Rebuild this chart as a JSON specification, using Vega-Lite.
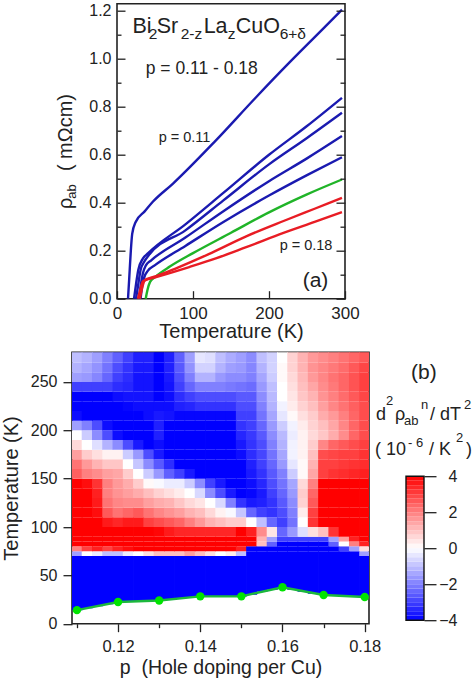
{"$schema":"https://vega.github.io/schema/vega-lite/v6.json","padding":{"left":0,"top":1.7,"right":0,"bottom":0},"background":"white","bounds":"flush","spacing":348.5,"config":{"font":"Liberation Sans","axis":{"grid":false,"domain":false,"tickColor":"#222","labelColor":"#222","titleColor":"#222","titleFontWeight":"normal","tickWidth":1.3,"labelFlush":false,"labelOverlap":false},"text":{"color":"#222"}},"vconcat":[{"hconcat":[{"width":45,"height":295,"data":{"values":[]},"mark":"point","encoding":{},"view":{"stroke":null}},{"width":228,"height":295,"view":{"stroke":"#222","strokeWidth":1.6},"layer":[{"data":{"values":[{"c":"p0.11","T":14.5,"r":0},{"c":"p0.11","T":16,"r":0.08},{"c":"p0.11","T":18,"r":0.19},{"c":"p0.11","T":20,"r":0.27},{"c":"p0.11","T":24.6,"r":0.32},{"c":"p0.11","T":36.4,"r":0.364},{"c":"p0.11","T":47.4,"r":0.405},{"c":"p0.11","T":73.7,"r":0.48},{"c":"p0.11","T":128.6,"r":0.655},{"c":"p0.11","T":183,"r":0.84},{"c":"p0.11","T":227,"r":0.985},{"c":"p0.11","T":271,"r":1.125},{"c":"p0.11","T":296,"r":1.205},{"c":"p0.12","T":22.4,"r":0},{"c":"p0.12","T":25,"r":0.06},{"c":"p0.12","T":28,"r":0.12},{"c":"p0.12","T":34,"r":0.167},{"c":"p0.12","T":41,"r":0.19},{"c":"p0.12","T":90,"r":0.31},{"c":"p0.12","T":139.5,"r":0.44},{"c":"p0.12","T":200,"r":0.6},{"c":"p0.12","T":250,"r":0.72},{"c":"p0.12","T":296,"r":0.8375},{"c":"p0.13","T":25,"r":0},{"c":"p0.13","T":28,"r":0.06},{"c":"p0.13","T":31,"r":0.12},{"c":"p0.13","T":36,"r":0.155},{"c":"p0.13","T":41,"r":0.178},{"c":"p0.13","T":90,"r":0.285},{"c":"p0.13","T":140,"r":0.41},{"c":"p0.13","T":200,"r":0.56},{"c":"p0.13","T":250,"r":0.67},{"c":"p0.13","T":296,"r":0.775},{"c":"p0.14","T":29,"r":0},{"c":"p0.14","T":31,"r":0.05},{"c":"p0.14","T":34,"r":0.105},{"c":"p0.14","T":38,"r":0.139},{"c":"p0.14","T":45,"r":0.16},{"c":"p0.14","T":90,"r":0.255},{"c":"p0.14","T":140,"r":0.365},{"c":"p0.14","T":200,"r":0.49},{"c":"p0.14","T":250,"r":0.585},{"c":"p0.14","T":296,"r":0.678},{"c":"p0.15","T":31,"r":0},{"c":"p0.15","T":33,"r":0.05},{"c":"p0.15","T":36,"r":0.09},{"c":"p0.15","T":41,"r":0.118},{"c":"p0.15","T":50,"r":0.14},{"c":"p0.15","T":90,"r":0.22},{"c":"p0.15","T":140,"r":0.32},{"c":"p0.15","T":200,"r":0.43},{"c":"p0.15","T":250,"r":0.515},{"c":"p0.15","T":296,"r":0.59},{"c":"p0.16","T":37.8,"r":0},{"c":"p0.16","T":40,"r":0.035},{"c":"p0.16","T":43.5,"r":0.07},{"c":"p0.16","T":50,"r":0.09},{"c":"p0.16","T":70,"r":0.135},{"c":"p0.16","T":100,"r":0.19},{"c":"p0.16","T":150,"r":0.275},{"c":"p0.16","T":200,"r":0.36},{"c":"p0.16","T":250,"r":0.435},{"c":"p0.16","T":296,"r":0.497},{"c":"p0.17","T":27.5,"r":0},{"c":"p0.17","T":30,"r":0.03},{"c":"p0.17","T":34,"r":0.072},{"c":"p0.17","T":51.5,"r":0.094},{"c":"p0.17","T":80,"r":0.13},{"c":"p0.17","T":120,"r":0.185},{"c":"p0.17","T":170,"r":0.26},{"c":"p0.17","T":220,"r":0.325},{"c":"p0.17","T":260,"r":0.375},{"c":"p0.17","T":296,"r":0.42},{"c":"p0.18","T":30,"r":0},{"c":"p0.18","T":32,"r":0.03},{"c":"p0.18","T":36.6,"r":0.076},{"c":"p0.18","T":51.5,"r":0.09},{"c":"p0.18","T":95,"r":0.132},{"c":"p0.18","T":130,"r":0.168},{"c":"p0.18","T":170,"r":0.215},{"c":"p0.18","T":220,"r":0.275},{"c":"p0.18","T":260,"r":0.32},{"c":"p0.18","T":296,"r":0.361}]},"mark":{"type":"line","strokeWidth":2.4,"interpolate":"monotone"},"encoding":{"x":{"field":"T","type":"quantitative","scale":{"domain":[0,300],"nice":false},"axis":{"zindex":2,"values":[0,50,100,150,200,250,300],"labelFontSize":17,"titleFontSize":20,"title":"Temperature (K)","labelExpr":"datum.value%100===0?datum.label:''","tickSize":{"condition":{"test":"datum.value%100===0","value":-8},"value":-4},"labelPadding":15,"titlePadding":0}},"y":{"field":"r","type":"quantitative","scale":{"domain":[0,1.23],"nice":false},"axis":{"zindex":2,"values":[0,0.1,0.2,0.3,0.4,0.5,0.6,0.7,0.8,0.9,1,1.1,1.2],"format":".1f","labelFontSize":16,"title":null,"labelExpr":"round(datum.value*10)%2===0?datum.label:''","tickSize":{"condition":{"test":"round(datum.value*10)%2===0","value":-8},"value":-4},"labelPadding":14}},"detail":{"field":"c"},"color":{"field":"c","type":"nominal","legend":null,"scale":{"domain":["p0.11","p0.12","p0.13","p0.14","p0.15","p0.16","p0.17","p0.18"],"range":["#1a1ab0","#1a1ab0","#1a1ab0","#1a1ab0","#1a1ab0","#20b428","#e81c24","#e81c24"]}}}},{"data":{"values":[{"t":"Bi","T":20.3,"r":1.107},{"t":"Sr","T":52.2,"r":1.107},{"t":"La","T":114,"r":1.107},{"t":"CuO","T":156.2,"r":1.107}]},"mark":{"type":"text","fontSize":21.5,"align":"left","baseline":"alphabetic","clip":false},"encoding":{"x":{"field":"T","type":"quantitative"},"y":{"field":"r","type":"quantitative","axis":{"zindex":2,"orient":"right","values":[0,0.1,0.2,0.3,0.4,0.5,0.6,0.7,0.8,0.9,1,1.1,1.2],"labels":false,"title":null,"tickSize":{"condition":{"test":"round(datum.value*10)%2===0","value":-9},"value":-5}}},"text":{"field":"t"}}},{"data":{"values":[{"t":"2","T":41.7,"r":1.082},{"t":"2-z","T":83.8,"r":1.082},{"t":"z","T":145.7,"r":1.082},{"t":"6+δ","T":214,"r":1.082}]},"mark":{"type":"text","fontSize":15.5,"align":"left","baseline":"alphabetic"},"encoding":{"x":{"field":"T","type":"quantitative"},"y":{"field":"r","type":"quantitative","axis":null},"text":{"field":"t"}}},{"data":{"values":[{"t":"p = 0.11 - 0.18","T":37.8,"r":0.936}]},"mark":{"type":"text","fontSize":17.5,"align":"left","baseline":"alphabetic"},"encoding":{"x":{"field":"T","type":"quantitative"},"y":{"field":"r","type":"quantitative","axis":null},"text":{"field":"t"}}},{"data":{"values":[{"t":"p = 0.11","T":54.9,"r":0.653},{"t":"p = 0.18","T":214,"r":0.203}]},"mark":{"type":"text","fontSize":14.5,"align":"left","baseline":"alphabetic"},"encoding":{"x":{"field":"T","type":"quantitative"},"y":{"field":"r","type":"quantitative","axis":null},"text":{"field":"t"}}},{"data":{"values":[{"t":"(a)","T":244.3,"r":0.049}]},"mark":{"type":"text","fontSize":21,"align":"left","baseline":"alphabetic"},"encoding":{"x":{"field":"T","type":"quantitative"},"y":{"field":"r","type":"quantitative","axis":null},"text":{"field":"t"}}},{"data":{"values":[{"t":"ρ","T":-59.6,"r":0.374},{"t":"( mΩcm)","T":-59.6,"r":0.532}]},"mark":{"type":"text","fontSize":20,"align":"left","baseline":"alphabetic","angle":270,"clip":false},"encoding":{"x":{"field":"T","type":"quantitative"},"y":{"field":"r","type":"quantitative","axis":null},"text":{"field":"t"}}},{"data":{"values":[{"t":"ab","T":-54.3,"r":0.417}]},"mark":{"type":"text","fontSize":13,"align":"left","baseline":"alphabetic","angle":270,"clip":false},"encoding":{"x":{"field":"T","type":"quantitative"},"y":{"field":"r","type":"quantitative","axis":null},"text":{"field":"t"}}}],"resolve":{"axis":{"y":"independent"}}}],"spacing":0,"bounds":"flush"},{"hconcat":[{"width":297,"height":271.5,"view":{"stroke":"#222","strokeWidth":1.6},"layer":[{"data":{"values":[
{"p":0.11,"a":14,"b":70,"v":-4},{"p":0.1125,"a":16,"b":70,"v":-4},{"p":0.115,"a":18,"b":70,"v":-4},{"p":0.1175,"a":20,"b":70,"v":-4},{"p":0.12,"a":22,"b":70,"v":-4},{"p":0.1225,"a":22.5,"b":70,"v":-4},{"p":0.125,"a":23,"b":70,"v":-4},{"p":0.1275,"a":23.5,"b":70,"v":-4},{"p":0.13,"a":24,"b":70,"v":-4},{"p":0.1325,"a":25,"b":70,"v":-4},{"p":0.135,"a":26,"b":70,"v":-4},{"p":0.1375,"a":27,"b":70,"v":-4},{"p":0.14,"a":28,"b":70,"v":-4},{"p":0.1425,"a":28,"b":70,"v":-4},{"p":0.145,"a":28,"b":70,"v":-4},{"p":0.1475,"a":28,"b":70,"v":-4},{"p":0.15,"a":28,"b":70,"v":-4},{"p":0.1525,"a":30,"b":70,"v":-4},{"p":0.155,"a":33,"b":70,"v":-4},{"p":0.1575,"a":35,"b":70,"v":-4},{"p":0.16,"a":38,"b":70,"v":-4},{"p":0.1625,"a":35,"b":70,"v":-4},{"p":0.165,"a":33,"b":70,"v":-4},{"p":0.1675,"a":31,"b":70,"v":-4},{"p":0.17,"a":30,"b":70,"v":-4},{"p":0.1725,"a":29,"b":70,"v":-4},{"p":0.175,"a":28.5,"b":70,"v":-4},{"p":0.1775,"a":28,"b":70,"v":-4},{"p":0.18,"a":27.6,"b":70,"v":-4},
{"p":0.11,"a":70,"b":75,"v":-1.5},{"p":0.1125,"a":70,"b":75,"v":0},{"p":0.115,"a":70,"b":75,"v":-0.3},{"p":0.1175,"a":70,"b":75,"v":-1},{"p":0.12,"a":70,"b":75,"v":-1},{"p":0.1225,"a":70,"b":75,"v":-0.3},{"p":0.125,"a":70,"b":75,"v":0},{"p":0.1275,"a":70,"b":75,"v":0.5},{"p":0.13,"a":70,"b":75,"v":1},{"p":0.1325,"a":70,"b":75,"v":1},{"p":0.135,"a":70,"b":75,"v":1},{"p":0.1375,"a":70,"b":75,"v":1.5},{"p":0.14,"a":70,"b":75,"v":1},{"p":0.1425,"a":70,"b":75,"v":0.5},{"p":0.145,"a":70,"b":75,"v":0},{"p":0.1475,"a":70,"b":75,"v":0.3},{"p":0.15,"a":70,"b":75,"v":-1},{"p":0.1525,"a":70,"b":75,"v":-4},{"p":0.155,"a":70,"b":75,"v":-4},{"p":0.1575,"a":70,"b":75,"v":-4},{"p":0.16,"a":70,"b":75,"v":-4},{"p":0.1625,"a":70,"b":75,"v":-4},{"p":0.165,"a":70,"b":75,"v":-4},{"p":0.1675,"a":70,"b":75,"v":-4},{"p":0.17,"a":70,"b":75,"v":-4},{"p":0.1725,"a":70,"b":75,"v":-4},{"p":0.175,"a":70,"b":75,"v":-4},{"p":0.1775,"a":70,"b":75,"v":-4},{"p":0.18,"a":70,"b":75,"v":-1.5},
{"p":0.11,"a":75,"b":80,"v":2},{"p":0.1125,"a":75,"b":80,"v":3},{"p":0.115,"a":75,"b":80,"v":3.5},{"p":0.1175,"a":75,"b":80,"v":3},{"p":0.12,"a":75,"b":80,"v":3.5},{"p":0.1225,"a":75,"b":80,"v":3.8},{"p":0.125,"a":75,"b":80,"v":4},{"p":0.1275,"a":75,"b":80,"v":4},{"p":0.13,"a":75,"b":80,"v":4},{"p":0.1325,"a":75,"b":80,"v":4},{"p":0.135,"a":75,"b":80,"v":4},{"p":0.1375,"a":75,"b":80,"v":4},{"p":0.14,"a":75,"b":80,"v":4},{"p":0.1425,"a":75,"b":80,"v":4},{"p":0.145,"a":75,"b":80,"v":4},{"p":0.1475,"a":75,"b":80,"v":4},{"p":0.15,"a":75,"b":80,"v":3.5},{"p":0.1525,"a":75,"b":80,"v":-4},{"p":0.155,"a":75,"b":80,"v":-4},{"p":0.1575,"a":75,"b":80,"v":-4},{"p":0.16,"a":75,"b":80,"v":-4},{"p":0.1625,"a":75,"b":80,"v":-4},{"p":0.165,"a":75,"b":80,"v":-4},{"p":0.1675,"a":75,"b":80,"v":-4},{"p":0.17,"a":75,"b":80,"v":-4},{"p":0.1725,"a":75,"b":80,"v":-4},{"p":0.175,"a":75,"b":80,"v":-3},{"p":0.1775,"a":75,"b":80,"v":-1.5},{"p":0.18,"a":75,"b":80,"v":0.5},
{"p":0.11,"a":80,"b":85,"v":4},{"p":0.1125,"a":80,"b":85,"v":4},{"p":0.115,"a":80,"b":85,"v":4},{"p":0.1175,"a":80,"b":85,"v":4},{"p":0.12,"a":80,"b":85,"v":4},{"p":0.1225,"a":80,"b":85,"v":4},{"p":0.125,"a":80,"b":85,"v":4},{"p":0.1275,"a":80,"b":85,"v":4},{"p":0.13,"a":80,"b":85,"v":4},{"p":0.1325,"a":80,"b":85,"v":4},{"p":0.135,"a":80,"b":85,"v":4},{"p":0.1375,"a":80,"b":85,"v":4},{"p":0.14,"a":80,"b":85,"v":4},{"p":0.1425,"a":80,"b":85,"v":4},{"p":0.145,"a":80,"b":85,"v":4},{"p":0.1475,"a":80,"b":85,"v":4},{"p":0.15,"a":80,"b":85,"v":4},{"p":0.1525,"a":80,"b":85,"v":4},{"p":0.155,"a":80,"b":85,"v":1},{"p":0.1575,"a":80,"b":85,"v":-2.5},{"p":0.16,"a":80,"b":85,"v":-4},{"p":0.1625,"a":80,"b":85,"v":-4},{"p":0.165,"a":80,"b":85,"v":-4},{"p":0.1675,"a":80,"b":85,"v":-4},{"p":0.17,"a":80,"b":85,"v":-4},{"p":0.1725,"a":80,"b":85,"v":-2.5},{"p":0.175,"a":80,"b":85,"v":0},{"p":0.1775,"a":80,"b":85,"v":2},{"p":0.18,"a":80,"b":85,"v":3.5},
{"p":0.11,"a":85,"b":90,"v":4},{"p":0.1125,"a":85,"b":90,"v":4},{"p":0.115,"a":85,"b":90,"v":4},{"p":0.1175,"a":85,"b":90,"v":4},{"p":0.12,"a":85,"b":90,"v":4},{"p":0.1225,"a":85,"b":90,"v":4},{"p":0.125,"a":85,"b":90,"v":4},{"p":0.1275,"a":85,"b":90,"v":4},{"p":0.13,"a":85,"b":90,"v":4},{"p":0.1325,"a":85,"b":90,"v":4},{"p":0.135,"a":85,"b":90,"v":4},{"p":0.1375,"a":85,"b":90,"v":4},{"p":0.14,"a":85,"b":90,"v":4},{"p":0.1425,"a":85,"b":90,"v":4},{"p":0.145,"a":85,"b":90,"v":4},{"p":0.1475,"a":85,"b":90,"v":4},{"p":0.15,"a":85,"b":90,"v":4},{"p":0.1525,"a":85,"b":90,"v":4},{"p":0.155,"a":85,"b":90,"v":1.2},{"p":0.1575,"a":85,"b":90,"v":-1.5},{"p":0.16,"a":85,"b":90,"v":-3},{"p":0.1625,"a":85,"b":90,"v":-3},{"p":0.165,"a":85,"b":90,"v":-3},{"p":0.1675,"a":85,"b":90,"v":-3},{"p":0.17,"a":85,"b":90,"v":-3},{"p":0.1725,"a":85,"b":90,"v":-1.5},{"p":0.175,"a":85,"b":90,"v":1.5},{"p":0.1775,"a":85,"b":90,"v":3.5},{"p":0.18,"a":85,"b":90,"v":4},
{"p":0.11,"a":90,"b":100,"v":4},{"p":0.1125,"a":90,"b":100,"v":4},{"p":0.115,"a":90,"b":100,"v":4},{"p":0.1175,"a":90,"b":100,"v":4},{"p":0.12,"a":90,"b":100,"v":4},{"p":0.1225,"a":90,"b":100,"v":4},{"p":0.125,"a":90,"b":100,"v":4},{"p":0.1275,"a":90,"b":100,"v":4},{"p":0.13,"a":90,"b":100,"v":3.9},{"p":0.1325,"a":90,"b":100,"v":3.6},{"p":0.135,"a":90,"b":100,"v":3.4},{"p":0.1375,"a":90,"b":100,"v":3.4},{"p":0.14,"a":90,"b":100,"v":3.4},{"p":0.1425,"a":90,"b":100,"v":3.4},{"p":0.145,"a":90,"b":100,"v":3.4},{"p":0.1475,"a":90,"b":100,"v":3.4},{"p":0.15,"a":90,"b":100,"v":4},{"p":0.1525,"a":90,"b":100,"v":3.5},{"p":0.155,"a":90,"b":100,"v":1.8},{"p":0.1575,"a":90,"b":100,"v":0.4},{"p":0.16,"a":90,"b":100,"v":-2.4},{"p":0.1625,"a":90,"b":100,"v":-1.6},{"p":0.165,"a":90,"b":100,"v":-0.5},{"p":0.1675,"a":90,"b":100,"v":0.5},{"p":0.17,"a":90,"b":100,"v":1},{"p":0.1725,"a":90,"b":100,"v":3.2},{"p":0.175,"a":90,"b":100,"v":4},{"p":0.1775,"a":90,"b":100,"v":4},{"p":0.18,"a":90,"b":100,"v":4},
{"p":0.11,"a":100,"b":110,"v":4},{"p":0.1125,"a":100,"b":110,"v":4},{"p":0.115,"a":100,"b":110,"v":4},{"p":0.1175,"a":100,"b":110,"v":3.6},{"p":0.12,"a":100,"b":110,"v":3.4},{"p":0.1225,"a":100,"b":110,"v":3.6},{"p":0.125,"a":100,"b":110,"v":3.6},{"p":0.1275,"a":100,"b":110,"v":3},{"p":0.13,"a":100,"b":110,"v":2.8},{"p":0.1325,"a":100,"b":110,"v":2.6},{"p":0.135,"a":100,"b":110,"v":2.4},{"p":0.1375,"a":100,"b":110,"v":2},{"p":0.14,"a":100,"b":110,"v":1.6},{"p":0.1425,"a":100,"b":110,"v":1.2},{"p":0.145,"a":100,"b":110,"v":1},{"p":0.1475,"a":100,"b":110,"v":0.8},{"p":0.15,"a":100,"b":110,"v":0.8},{"p":0.1525,"a":100,"b":110,"v":0},{"p":0.155,"a":100,"b":110,"v":-1},{"p":0.1575,"a":100,"b":110,"v":-2.4},{"p":0.16,"a":100,"b":110,"v":-3},{"p":0.1625,"a":100,"b":110,"v":-2.2},{"p":0.165,"a":100,"b":110,"v":0},{"p":0.1675,"a":100,"b":110,"v":3.2},{"p":0.17,"a":100,"b":110,"v":4},{"p":0.1725,"a":100,"b":110,"v":4},{"p":0.175,"a":100,"b":110,"v":4},{"p":0.1775,"a":100,"b":110,"v":4},{"p":0.18,"a":100,"b":110,"v":4},
{"p":0.11,"a":110,"b":120,"v":4},{"p":0.1125,"a":110,"b":120,"v":4},{"p":0.115,"a":110,"b":120,"v":3.8},{"p":0.1175,"a":110,"b":120,"v":2.6},{"p":0.12,"a":110,"b":120,"v":2.2},{"p":0.1225,"a":110,"b":120,"v":2.4},{"p":0.125,"a":110,"b":120,"v":2.6},{"p":0.1275,"a":110,"b":120,"v":2.2},{"p":0.13,"a":110,"b":120,"v":1.9},{"p":0.1325,"a":110,"b":120,"v":1.7},{"p":0.135,"a":110,"b":120,"v":1.5},{"p":0.1375,"a":110,"b":120,"v":1.2},{"p":0.14,"a":110,"b":120,"v":1},{"p":0.1425,"a":110,"b":120,"v":0.6},{"p":0.145,"a":110,"b":120,"v":0.2},{"p":0.1475,"a":110,"b":120,"v":-0.1},{"p":0.15,"a":110,"b":120,"v":-0.9},{"p":0.1525,"a":110,"b":120,"v":-2.4},{"p":0.155,"a":110,"b":120,"v":-3},{"p":0.1575,"a":110,"b":120,"v":-3.2},{"p":0.16,"a":110,"b":120,"v":-2.8},{"p":0.1625,"a":110,"b":120,"v":-2},{"p":0.165,"a":110,"b":120,"v":0.3},{"p":0.1675,"a":110,"b":120,"v":3},{"p":0.17,"a":110,"b":120,"v":4},{"p":0.1725,"a":110,"b":120,"v":4},{"p":0.175,"a":110,"b":120,"v":4},{"p":0.1775,"a":110,"b":120,"v":4},{"p":0.18,"a":110,"b":120,"v":4},
{"p":0.11,"a":120,"b":130,"v":4},{"p":0.1125,"a":120,"b":130,"v":4},{"p":0.115,"a":120,"b":130,"v":3.6},{"p":0.1175,"a":120,"b":130,"v":2.2},{"p":0.12,"a":120,"b":130,"v":1.9},{"p":0.1225,"a":120,"b":130,"v":1.8},{"p":0.125,"a":120,"b":130,"v":1.8},{"p":0.1275,"a":120,"b":130,"v":1.5},{"p":0.13,"a":120,"b":130,"v":1.3},{"p":0.1325,"a":120,"b":130,"v":1.2},{"p":0.135,"a":120,"b":130,"v":0.9},{"p":0.1375,"a":120,"b":130,"v":0.6},{"p":0.14,"a":120,"b":130,"v":0.4},{"p":0.1425,"a":120,"b":130,"v":0},{"p":0.145,"a":120,"b":130,"v":-0.6},{"p":0.1475,"a":120,"b":130,"v":-2},{"p":0.15,"a":120,"b":130,"v":-3.2},{"p":0.1525,"a":120,"b":130,"v":-3.6},{"p":0.155,"a":120,"b":130,"v":-3.5},{"p":0.1575,"a":120,"b":130,"v":-3.2},{"p":0.16,"a":120,"b":130,"v":-2.6},{"p":0.1625,"a":120,"b":130,"v":-1.8},{"p":0.165,"a":120,"b":130,"v":0.7},{"p":0.1675,"a":120,"b":130,"v":2.6},{"p":0.17,"a":120,"b":130,"v":4},{"p":0.1725,"a":120,"b":130,"v":4},{"p":0.175,"a":120,"b":130,"v":4},{"p":0.1775,"a":120,"b":130,"v":4},{"p":0.18,"a":120,"b":130,"v":4},
{"p":0.11,"a":130,"b":140,"v":4},{"p":0.1125,"a":130,"b":140,"v":4},{"p":0.115,"a":130,"b":140,"v":3.5},{"p":0.1175,"a":130,"b":140,"v":2},{"p":0.12,"a":130,"b":140,"v":1.7},{"p":0.1225,"a":130,"b":140,"v":1.5},{"p":0.125,"a":130,"b":140,"v":1.3},{"p":0.1275,"a":130,"b":140,"v":1},{"p":0.13,"a":130,"b":140,"v":0.7},{"p":0.1325,"a":130,"b":140,"v":0.5},{"p":0.135,"a":130,"b":140,"v":0.3},{"p":0.1375,"a":130,"b":140,"v":0},{"p":0.14,"a":130,"b":140,"v":-0.6},{"p":0.1425,"a":130,"b":140,"v":-1.8},{"p":0.145,"a":130,"b":140,"v":-2.8},{"p":0.1475,"a":130,"b":140,"v":-3.6},{"p":0.15,"a":130,"b":140,"v":-4},{"p":0.1525,"a":130,"b":140,"v":-3.9},{"p":0.155,"a":130,"b":140,"v":-3.6},{"p":0.1575,"a":130,"b":140,"v":-3},{"p":0.16,"a":130,"b":140,"v":-2.4},{"p":0.1625,"a":130,"b":140,"v":-1.6},{"p":0.165,"a":130,"b":140,"v":0.8},{"p":0.1675,"a":130,"b":140,"v":2.4},{"p":0.17,"a":130,"b":140,"v":4},{"p":0.1725,"a":130,"b":140,"v":4},{"p":0.175,"a":130,"b":140,"v":4},{"p":0.1775,"a":130,"b":140,"v":4},{"p":0.18,"a":130,"b":140,"v":4},
{"p":0.11,"a":140,"b":150,"v":4},{"p":0.1125,"a":140,"b":150,"v":3.8},{"p":0.115,"a":140,"b":150,"v":3.2},{"p":0.1175,"a":140,"b":150,"v":2},{"p":0.12,"a":140,"b":150,"v":1.6},{"p":0.1225,"a":140,"b":150,"v":1.3},{"p":0.125,"a":140,"b":150,"v":0.8},{"p":0.1275,"a":140,"b":150,"v":0.1},{"p":0.13,"a":140,"b":150,"v":-0.1},{"p":0.1325,"a":140,"b":150,"v":-0.3},{"p":0.135,"a":140,"b":150,"v":-0.3},{"p":0.1375,"a":140,"b":150,"v":-0.8},{"p":0.14,"a":140,"b":150,"v":-1.8},{"p":0.1425,"a":140,"b":150,"v":-3},{"p":0.145,"a":140,"b":150,"v":-3.6},{"p":0.1475,"a":140,"b":150,"v":-4},{"p":0.15,"a":140,"b":150,"v":-4},{"p":0.1525,"a":140,"b":150,"v":-3.8},{"p":0.155,"a":140,"b":150,"v":-3.4},{"p":0.1575,"a":140,"b":150,"v":-2.8},{"p":0.16,"a":140,"b":150,"v":-2.2},{"p":0.1625,"a":140,"b":150,"v":-1.4},{"p":0.165,"a":140,"b":150,"v":0.6},{"p":0.1675,"a":140,"b":150,"v":2},{"p":0.17,"a":140,"b":150,"v":4},{"p":0.1725,"a":140,"b":150,"v":4},{"p":0.175,"a":140,"b":150,"v":4},{"p":0.1775,"a":140,"b":150,"v":4},{"p":0.18,"a":140,"b":150,"v":4},
{"p":0.11,"a":150,"b":160,"v":2.5},{"p":0.1125,"a":150,"b":160,"v":2},{"p":0.115,"a":150,"b":160,"v":1.8},{"p":0.1175,"a":150,"b":160,"v":1.5},{"p":0.12,"a":150,"b":160,"v":1.4},{"p":0.1225,"a":150,"b":160,"v":0.8},{"p":0.125,"a":150,"b":160,"v":0},{"p":0.1275,"a":150,"b":160,"v":-0.8},{"p":0.13,"a":150,"b":160,"v":-1.6},{"p":0.1325,"a":150,"b":160,"v":-2.5},{"p":0.135,"a":150,"b":160,"v":-3},{"p":0.1375,"a":150,"b":160,"v":-3.6},{"p":0.14,"a":150,"b":160,"v":-4},{"p":0.1425,"a":150,"b":160,"v":-4},{"p":0.145,"a":150,"b":160,"v":-4},{"p":0.1475,"a":150,"b":160,"v":-4},{"p":0.15,"a":150,"b":160,"v":-4},{"p":0.1525,"a":150,"b":160,"v":-3.6},{"p":0.155,"a":150,"b":160,"v":-3.2},{"p":0.1575,"a":150,"b":160,"v":-2.6},{"p":0.16,"a":150,"b":160,"v":-2},{"p":0.1625,"a":150,"b":160,"v":-0.8},{"p":0.165,"a":150,"b":160,"v":0.1},{"p":0.1675,"a":150,"b":160,"v":1.4},{"p":0.17,"a":150,"b":160,"v":3},{"p":0.1725,"a":150,"b":160,"v":3.2},{"p":0.175,"a":150,"b":160,"v":3.3},{"p":0.1775,"a":150,"b":160,"v":3.4},{"p":0.18,"a":150,"b":160,"v":3.5},
{"p":0.11,"a":160,"b":170,"v":2.2},{"p":0.1125,"a":160,"b":170,"v":1.6},{"p":0.115,"a":160,"b":170,"v":1.2},{"p":0.1175,"a":160,"b":170,"v":0.9},{"p":0.12,"a":160,"b":170,"v":0.9},{"p":0.1225,"a":160,"b":170,"v":0},{"p":0.125,"a":160,"b":170,"v":-0.9},{"p":0.1275,"a":160,"b":170,"v":-1.8},{"p":0.13,"a":160,"b":170,"v":-2.6},{"p":0.1325,"a":160,"b":170,"v":-3.3},{"p":0.135,"a":160,"b":170,"v":-4},{"p":0.1375,"a":160,"b":170,"v":-4},{"p":0.14,"a":160,"b":170,"v":-4},{"p":0.1425,"a":160,"b":170,"v":-4},{"p":0.145,"a":160,"b":170,"v":-4},{"p":0.1475,"a":160,"b":170,"v":-4},{"p":0.15,"a":160,"b":170,"v":-4},{"p":0.1525,"a":160,"b":170,"v":-3.5},{"p":0.155,"a":160,"b":170,"v":-3},{"p":0.1575,"a":160,"b":170,"v":-2.4},{"p":0.16,"a":160,"b":170,"v":-1.6},{"p":0.1625,"a":160,"b":170,"v":-0.4},{"p":0.165,"a":160,"b":170,"v":0.1},{"p":0.1675,"a":160,"b":170,"v":1.2},{"p":0.17,"a":160,"b":170,"v":3},{"p":0.1725,"a":160,"b":170,"v":3},{"p":0.175,"a":160,"b":170,"v":3.1},{"p":0.1775,"a":160,"b":170,"v":3.2},{"p":0.18,"a":160,"b":170,"v":3.3},
{"p":0.11,"a":170,"b":180,"v":1.5},{"p":0.1125,"a":170,"b":180,"v":0.8},{"p":0.115,"a":170,"b":180,"v":0.5},{"p":0.1175,"a":170,"b":180,"v":0.2},{"p":0.12,"a":170,"b":180,"v":0.2},{"p":0.1225,"a":170,"b":180,"v":-0.8},{"p":0.125,"a":170,"b":180,"v":-1.6},{"p":0.1275,"a":170,"b":180,"v":-2.8},{"p":0.13,"a":170,"b":180,"v":-3.6},{"p":0.1325,"a":170,"b":180,"v":-4},{"p":0.135,"a":170,"b":180,"v":-4},{"p":0.1375,"a":170,"b":180,"v":-4},{"p":0.14,"a":170,"b":180,"v":-4},{"p":0.1425,"a":170,"b":180,"v":-4},{"p":0.145,"a":170,"b":180,"v":-4},{"p":0.1475,"a":170,"b":180,"v":-4},{"p":0.15,"a":170,"b":180,"v":-3.8},{"p":0.1525,"a":170,"b":180,"v":-3.3},{"p":0.155,"a":170,"b":180,"v":-2.9},{"p":0.1575,"a":170,"b":180,"v":-2.2},{"p":0.16,"a":170,"b":180,"v":-1.4},{"p":0.1625,"a":170,"b":180,"v":-0.2},{"p":0.165,"a":170,"b":180,"v":0.2},{"p":0.1675,"a":170,"b":180,"v":1},{"p":0.17,"a":170,"b":180,"v":2.8},{"p":0.1725,"a":170,"b":180,"v":2.9},{"p":0.175,"a":170,"b":180,"v":3},{"p":0.1775,"a":170,"b":180,"v":3},{"p":0.18,"a":170,"b":180,"v":3.2},
{"p":0.11,"a":180,"b":190,"v":0.6},{"p":0.1125,"a":180,"b":190,"v":0},{"p":0.115,"a":180,"b":190,"v":-0.5},{"p":0.1175,"a":180,"b":190,"v":-1.2},{"p":0.12,"a":180,"b":190,"v":-1.8},{"p":0.1225,"a":180,"b":190,"v":-2.8},{"p":0.125,"a":180,"b":190,"v":-3.6},{"p":0.1275,"a":180,"b":190,"v":-4},{"p":0.13,"a":180,"b":190,"v":-3.8},{"p":0.1325,"a":180,"b":190,"v":-4},{"p":0.135,"a":180,"b":190,"v":-4},{"p":0.1375,"a":180,"b":190,"v":-4},{"p":0.14,"a":180,"b":190,"v":-4},{"p":0.1425,"a":180,"b":190,"v":-4},{"p":0.145,"a":180,"b":190,"v":-4},{"p":0.1475,"a":180,"b":190,"v":-4},{"p":0.15,"a":180,"b":190,"v":-3.6},{"p":0.1525,"a":180,"b":190,"v":-3.2},{"p":0.155,"a":180,"b":190,"v":-2.8},{"p":0.1575,"a":180,"b":190,"v":-2},{"p":0.16,"a":180,"b":190,"v":-1.2},{"p":0.1625,"a":180,"b":190,"v":-0.2},{"p":0.165,"a":180,"b":190,"v":0.2},{"p":0.1675,"a":180,"b":190,"v":0.8},{"p":0.17,"a":180,"b":190,"v":1.9},{"p":0.1725,"a":180,"b":190,"v":2.4},{"p":0.175,"a":180,"b":190,"v":2.6},{"p":0.1775,"a":180,"b":190,"v":2.8},{"p":0.18,"a":180,"b":190,"v":3},
{"p":0.11,"a":190,"b":200,"v":0},{"p":0.1125,"a":190,"b":200,"v":-0.8},{"p":0.115,"a":190,"b":200,"v":-1.8},{"p":0.1175,"a":190,"b":200,"v":-2.8},{"p":0.12,"a":190,"b":200,"v":-3.8},{"p":0.1225,"a":190,"b":200,"v":-4},{"p":0.125,"a":190,"b":200,"v":-4},{"p":0.1275,"a":190,"b":200,"v":-4},{"p":0.13,"a":190,"b":200,"v":-3.5},{"p":0.1325,"a":190,"b":200,"v":-4},{"p":0.135,"a":190,"b":200,"v":-4},{"p":0.1375,"a":190,"b":200,"v":-4},{"p":0.14,"a":190,"b":200,"v":-4},{"p":0.1425,"a":190,"b":200,"v":-4},{"p":0.145,"a":190,"b":200,"v":-4},{"p":0.1475,"a":190,"b":200,"v":-4},{"p":0.15,"a":190,"b":200,"v":-3.4},{"p":0.1525,"a":190,"b":200,"v":-3.1},{"p":0.155,"a":190,"b":200,"v":-2.6},{"p":0.1575,"a":190,"b":200,"v":-1.8},{"p":0.16,"a":190,"b":200,"v":-1.1},{"p":0.1625,"a":190,"b":200,"v":-0.3},{"p":0.165,"a":190,"b":200,"v":0.2},{"p":0.1675,"a":190,"b":200,"v":0.6},{"p":0.17,"a":190,"b":200,"v":0.9},{"p":0.1725,"a":190,"b":200,"v":1.3},{"p":0.175,"a":190,"b":200,"v":1.8},{"p":0.1775,"a":190,"b":200,"v":2.4},{"p":0.18,"a":190,"b":200,"v":2.8},
{"p":0.11,"a":200,"b":210,"v":-1.5},{"p":0.1125,"a":200,"b":210,"v":-2},{"p":0.115,"a":200,"b":210,"v":-2.8},{"p":0.1175,"a":200,"b":210,"v":-3.8},{"p":0.12,"a":200,"b":210,"v":-4},{"p":0.1225,"a":200,"b":210,"v":-4},{"p":0.125,"a":200,"b":210,"v":-4},{"p":0.1275,"a":200,"b":210,"v":-4},{"p":0.13,"a":200,"b":210,"v":-3.5},{"p":0.1325,"a":200,"b":210,"v":-4},{"p":0.135,"a":200,"b":210,"v":-4},{"p":0.1375,"a":200,"b":210,"v":-4},{"p":0.14,"a":200,"b":210,"v":-4},{"p":0.1425,"a":200,"b":210,"v":-4},{"p":0.145,"a":200,"b":210,"v":-4},{"p":0.1475,"a":200,"b":210,"v":-4},{"p":0.15,"a":200,"b":210,"v":-3.2},{"p":0.1525,"a":200,"b":210,"v":-3},{"p":0.155,"a":200,"b":210,"v":-2.4},{"p":0.1575,"a":200,"b":210,"v":-1.6},{"p":0.16,"a":200,"b":210,"v":-0.8},{"p":0.1625,"a":200,"b":210,"v":-0.2},{"p":0.165,"a":200,"b":210,"v":0.3},{"p":0.1675,"a":200,"b":210,"v":0.7},{"p":0.17,"a":200,"b":210,"v":1},{"p":0.1725,"a":200,"b":210,"v":1.4},{"p":0.175,"a":200,"b":210,"v":1.9},{"p":0.1775,"a":200,"b":210,"v":2.4},{"p":0.18,"a":200,"b":210,"v":2.8},
{"p":0.11,"a":210,"b":220,"v":-3.8},{"p":0.1125,"a":210,"b":220,"v":-4},{"p":0.115,"a":210,"b":220,"v":-4},{"p":0.1175,"a":210,"b":220,"v":-4},{"p":0.12,"a":210,"b":220,"v":-4},{"p":0.1225,"a":210,"b":220,"v":-4},{"p":0.125,"a":210,"b":220,"v":-4},{"p":0.1275,"a":210,"b":220,"v":-3.8},{"p":0.13,"a":210,"b":220,"v":-3.6},{"p":0.1325,"a":210,"b":220,"v":-3.7},{"p":0.135,"a":210,"b":220,"v":-3.9},{"p":0.1375,"a":210,"b":220,"v":-3.9},{"p":0.14,"a":210,"b":220,"v":-3.9},{"p":0.1425,"a":210,"b":220,"v":-3.9},{"p":0.145,"a":210,"b":220,"v":-3.9},{"p":0.1475,"a":210,"b":220,"v":-3.9},{"p":0.15,"a":210,"b":220,"v":-3},{"p":0.1525,"a":210,"b":220,"v":-3},{"p":0.155,"a":210,"b":220,"v":-2.2},{"p":0.1575,"a":210,"b":220,"v":-1.4},{"p":0.16,"a":210,"b":220,"v":-0.4},{"p":0.1625,"a":210,"b":220,"v":0.1},{"p":0.165,"a":210,"b":220,"v":0.5},{"p":0.1675,"a":210,"b":220,"v":0.8},{"p":0.17,"a":210,"b":220,"v":1.3},{"p":0.1725,"a":210,"b":220,"v":1.6},{"p":0.175,"a":210,"b":220,"v":2},{"p":0.1775,"a":210,"b":220,"v":2.4},{"p":0.18,"a":210,"b":220,"v":2.8},
{"p":0.11,"a":220,"b":230,"v":-4},{"p":0.1125,"a":220,"b":230,"v":-4},{"p":0.115,"a":220,"b":230,"v":-4},{"p":0.1175,"a":220,"b":230,"v":-4},{"p":0.12,"a":220,"b":230,"v":-4},{"p":0.1225,"a":220,"b":230,"v":-3.9},{"p":0.125,"a":220,"b":230,"v":-3.8},{"p":0.1275,"a":220,"b":230,"v":-3.8},{"p":0.13,"a":220,"b":230,"v":-3.8},{"p":0.1325,"a":220,"b":230,"v":-3.8},{"p":0.135,"a":220,"b":230,"v":-3.5},{"p":0.1375,"a":220,"b":230,"v":-3.4},{"p":0.14,"a":220,"b":230,"v":-3.2},{"p":0.1425,"a":220,"b":230,"v":-3.2},{"p":0.145,"a":220,"b":230,"v":-3.2},{"p":0.1475,"a":220,"b":230,"v":-3.2},{"p":0.15,"a":220,"b":230,"v":-2.8},{"p":0.1525,"a":220,"b":230,"v":-2.8},{"p":0.155,"a":220,"b":230,"v":-2},{"p":0.1575,"a":220,"b":230,"v":-1.2},{"p":0.16,"a":220,"b":230,"v":-0.2},{"p":0.1625,"a":220,"b":230,"v":0.3},{"p":0.165,"a":220,"b":230,"v":0.7},{"p":0.1675,"a":220,"b":230,"v":1},{"p":0.17,"a":220,"b":230,"v":1.5},{"p":0.1725,"a":220,"b":230,"v":1.9},{"p":0.175,"a":220,"b":230,"v":2.2},{"p":0.1775,"a":220,"b":230,"v":2.5},{"p":0.18,"a":220,"b":230,"v":2.8},
{"p":0.11,"a":230,"b":240,"v":-4},{"p":0.1125,"a":230,"b":240,"v":-4},{"p":0.115,"a":230,"b":240,"v":-4},{"p":0.1175,"a":230,"b":240,"v":-4},{"p":0.12,"a":230,"b":240,"v":-3.8},{"p":0.1225,"a":230,"b":240,"v":-3.7},{"p":0.125,"a":230,"b":240,"v":-3.7},{"p":0.1275,"a":230,"b":240,"v":-3.7},{"p":0.13,"a":230,"b":240,"v":-4},{"p":0.1325,"a":230,"b":240,"v":-3.8},{"p":0.135,"a":230,"b":240,"v":-3.3},{"p":0.1375,"a":230,"b":240,"v":-3},{"p":0.14,"a":230,"b":240,"v":-2.8},{"p":0.1425,"a":230,"b":240,"v":-2.8},{"p":0.145,"a":230,"b":240,"v":-2.8},{"p":0.1475,"a":230,"b":240,"v":-2.8},{"p":0.15,"a":230,"b":240,"v":-2.6},{"p":0.1525,"a":230,"b":240,"v":-2.6},{"p":0.155,"a":230,"b":240,"v":-1.8},{"p":0.1575,"a":230,"b":240,"v":-1.1},{"p":0.16,"a":230,"b":240,"v":0},{"p":0.1625,"a":230,"b":240,"v":0.4},{"p":0.165,"a":230,"b":240,"v":0.9},{"p":0.1675,"a":230,"b":240,"v":1.2},{"p":0.17,"a":230,"b":240,"v":1.7},{"p":0.1725,"a":230,"b":240,"v":2},{"p":0.175,"a":230,"b":240,"v":2.3},{"p":0.1775,"a":230,"b":240,"v":2.6},{"p":0.18,"a":230,"b":240,"v":2.9},
{"p":0.11,"a":240,"b":250,"v":-3},{"p":0.1125,"a":240,"b":250,"v":-3},{"p":0.115,"a":240,"b":250,"v":-3},{"p":0.1175,"a":240,"b":250,"v":-3},{"p":0.12,"a":240,"b":250,"v":-3.3},{"p":0.1225,"a":240,"b":250,"v":-3.4},{"p":0.125,"a":240,"b":250,"v":-3.7},{"p":0.1275,"a":240,"b":250,"v":-3.7},{"p":0.13,"a":240,"b":250,"v":-4},{"p":0.1325,"a":240,"b":250,"v":-3.7},{"p":0.135,"a":240,"b":250,"v":-3},{"p":0.1375,"a":240,"b":250,"v":-2.4},{"p":0.14,"a":240,"b":250,"v":-2},{"p":0.1425,"a":240,"b":250,"v":-2},{"p":0.145,"a":240,"b":250,"v":-2},{"p":0.1475,"a":240,"b":250,"v":-2.1},{"p":0.15,"a":240,"b":250,"v":-2.2},{"p":0.1525,"a":240,"b":250,"v":-2.3},{"p":0.155,"a":240,"b":250,"v":-1.6},{"p":0.1575,"a":240,"b":250,"v":-1},{"p":0.16,"a":240,"b":250,"v":0},{"p":0.1625,"a":240,"b":250,"v":0.5},{"p":0.165,"a":240,"b":250,"v":1},{"p":0.1675,"a":240,"b":250,"v":1.4},{"p":0.17,"a":240,"b":250,"v":1.8},{"p":0.1725,"a":240,"b":250,"v":2.1},{"p":0.175,"a":240,"b":250,"v":2.4},{"p":0.1775,"a":240,"b":250,"v":2.7},{"p":0.18,"a":240,"b":250,"v":3},
{"p":0.11,"a":250,"b":260,"v":-1.5},{"p":0.1125,"a":250,"b":260,"v":-1.6},{"p":0.115,"a":250,"b":260,"v":-1.9},{"p":0.1175,"a":250,"b":260,"v":-2.4},{"p":0.12,"a":250,"b":260,"v":-3},{"p":0.1225,"a":250,"b":260,"v":-3.3},{"p":0.125,"a":250,"b":260,"v":-3.7},{"p":0.1275,"a":250,"b":260,"v":-3.7},{"p":0.13,"a":250,"b":260,"v":-4},{"p":0.1325,"a":250,"b":260,"v":-3.6},{"p":0.135,"a":250,"b":260,"v":-2.8},{"p":0.1375,"a":250,"b":260,"v":-2},{"p":0.14,"a":250,"b":260,"v":-1.2},{"p":0.1425,"a":250,"b":260,"v":-1.2},{"p":0.145,"a":250,"b":260,"v":-1.6},{"p":0.1475,"a":250,"b":260,"v":-1.8},{"p":0.15,"a":250,"b":260,"v":-1.8},{"p":0.1525,"a":250,"b":260,"v":-2},{"p":0.155,"a":250,"b":260,"v":-1.4},{"p":0.1575,"a":250,"b":260,"v":-0.8},{"p":0.16,"a":250,"b":260,"v":0.1},{"p":0.1625,"a":250,"b":260,"v":0.6},{"p":0.165,"a":250,"b":260,"v":1.1},{"p":0.1675,"a":250,"b":260,"v":1.6},{"p":0.17,"a":250,"b":260,"v":1.9},{"p":0.1725,"a":250,"b":260,"v":2.2},{"p":0.175,"a":250,"b":260,"v":2.4},{"p":0.1775,"a":250,"b":260,"v":2.7},{"p":0.18,"a":250,"b":260,"v":3},
{"p":0.11,"a":260,"b":270,"v":-1.2},{"p":0.1125,"a":260,"b":270,"v":-1.4},{"p":0.115,"a":260,"b":270,"v":-1.7},{"p":0.1175,"a":260,"b":270,"v":-2.2},{"p":0.12,"a":260,"b":270,"v":-2.8},{"p":0.1225,"a":260,"b":270,"v":-3.2},{"p":0.125,"a":260,"b":270,"v":-3.6},{"p":0.1275,"a":260,"b":270,"v":-3.6},{"p":0.13,"a":260,"b":270,"v":-4},{"p":0.1325,"a":260,"b":270,"v":-3.5},{"p":0.135,"a":260,"b":270,"v":-2.6},{"p":0.1375,"a":260,"b":270,"v":-1.7},{"p":0.14,"a":260,"b":270,"v":-0.7},{"p":0.1425,"a":260,"b":270,"v":-0.7},{"p":0.145,"a":260,"b":270,"v":-1.2},{"p":0.1475,"a":260,"b":270,"v":-1.5},{"p":0.15,"a":260,"b":270,"v":-1.6},{"p":0.1525,"a":260,"b":270,"v":-1.9},{"p":0.155,"a":260,"b":270,"v":-1.2},{"p":0.1575,"a":260,"b":270,"v":-0.7},{"p":0.16,"a":260,"b":270,"v":0.1},{"p":0.1625,"a":260,"b":270,"v":0.7},{"p":0.165,"a":260,"b":270,"v":1.2},{"p":0.1675,"a":260,"b":270,"v":1.7},{"p":0.17,"a":260,"b":270,"v":1.9},{"p":0.1725,"a":260,"b":270,"v":2.1},{"p":0.175,"a":260,"b":270,"v":2.3},{"p":0.1775,"a":260,"b":270,"v":2.6},{"p":0.18,"a":260,"b":270,"v":2.9},
{"p":0.11,"a":270,"b":281,"v":-1},{"p":0.1125,"a":270,"b":281,"v":-1.2},{"p":0.115,"a":270,"b":281,"v":-1.5},{"p":0.1175,"a":270,"b":281,"v":-2},{"p":0.12,"a":270,"b":281,"v":-2.5},{"p":0.1225,"a":270,"b":281,"v":-3},{"p":0.125,"a":270,"b":281,"v":-3.5},{"p":0.1275,"a":270,"b":281,"v":-3.5},{"p":0.13,"a":270,"b":281,"v":-4},{"p":0.1325,"a":270,"b":281,"v":-3.5},{"p":0.135,"a":270,"b":281,"v":-2.5},{"p":0.1375,"a":270,"b":281,"v":-1.5},{"p":0.14,"a":270,"b":281,"v":-0.4},{"p":0.1425,"a":270,"b":281,"v":-0.5},{"p":0.145,"a":270,"b":281,"v":-1},{"p":0.1475,"a":270,"b":281,"v":-1.3},{"p":0.15,"a":270,"b":281,"v":-1.5},{"p":0.1525,"a":270,"b":281,"v":-1.8},{"p":0.155,"a":270,"b":281,"v":-1},{"p":0.1575,"a":270,"b":281,"v":-0.7},{"p":0.16,"a":270,"b":281,"v":0},{"p":0.1625,"a":270,"b":281,"v":0.7},{"p":0.165,"a":270,"b":281,"v":1.2},{"p":0.1675,"a":270,"b":281,"v":1.6},{"p":0.17,"a":270,"b":281,"v":1.8},{"p":0.1725,"a":270,"b":281,"v":2},{"p":0.175,"a":270,"b":281,"v":2.2},{"p":0.1775,"a":270,"b":281,"v":2.4},{"p":0.18,"a":270,"b":281,"v":2.6}
]},"mark":{"type":"rect","width":11,"clip":true},"encoding":{"x":{"field":"p","type":"quantitative","scale":{"domain":[0.1088,0.18104],"nice":false},"axis":{"values":[0.11,0.12,0.13,0.14,0.15,0.16,0.17,0.18],"format":".2f","labelFontSize":16.5,"title":"p\u00a0\u00a0(Hole doping per Cu)","titleFontSize":19.5,"labelExpr":"round(datum.value*100)%2===0?datum.label:''","tickSize":{"condition":{"test":"round(datum.value*100)%2===0","value":8},"value":4},"labelPadding":7,"titlePadding":3}},"y":{"field":"a","type":"quantitative","scale":{"domain":[0,280.8],"nice":false},"axis":{"values":[0,50,100,150,200,250],"labelFontSize":16,"tickSize":9,"labelPadding":6,"title":"Temperature (K)","titleFontSize":20,"titlePadding":9.3}},"y2":{"field":"b"},"color":{"field":"v","type":"quantitative","legend":null,"scale":{"domain":[-4,0,4],"range":["#0000ff","#ffffff","#ff0000"],"clamp":true,"interpolate":"rgb"}}}},{"data":{"values":[{"p":0.11,"Tc":14},{"p":0.12,"Tc":22.4},{"p":0.13,"Tc":24},{"p":0.14,"Tc":28.3},{"p":0.15,"Tc":28.3},{"p":0.16,"Tc":37.7},{"p":0.17,"Tc":29.7},{"p":0.18,"Tc":27.6}]},"layer":[{"mark":{"type":"line","stroke":"#1cb83c","strokeWidth":2.4},"encoding":{"x":{"field":"p","type":"quantitative"},"y":{"field":"Tc","type":"quantitative"}}},{"mark":{"type":"point","filled":true,"size":70,"color":"#00e400","opacity":1},"encoding":{"x":{"field":"p","type":"quantitative"},"y":{"field":"Tc","type":"quantitative"}}}]}]},{"width":18,"height":271.5,"view":{"stroke":null},"layer":[{"data":{"values":[{"lo":-4,"hi":-3.75,"v":-3.875},{"lo":-3.75,"hi":-3.5,"v":-3.625},{"lo":-3.5,"hi":-3.25,"v":-3.375},{"lo":-3.25,"hi":-3,"v":-3.125},{"lo":-3,"hi":-2.75,"v":-2.875},{"lo":-2.75,"hi":-2.5,"v":-2.625},{"lo":-2.5,"hi":-2.25,"v":-2.375},{"lo":-2.25,"hi":-2,"v":-2.125},{"lo":-2,"hi":-1.75,"v":-1.875},{"lo":-1.75,"hi":-1.5,"v":-1.625},{"lo":-1.5,"hi":-1.25,"v":-1.375},{"lo":-1.25,"hi":-1,"v":-1.125},{"lo":-1,"hi":-0.75,"v":-0.875},{"lo":-0.75,"hi":-0.5,"v":-0.625},{"lo":-0.5,"hi":-0.25,"v":-0.375},{"lo":-0.25,"hi":0,"v":-0.125},{"lo":0,"hi":0.25,"v":0.125},{"lo":0.25,"hi":0.5,"v":0.375},{"lo":0.5,"hi":0.75,"v":0.625},{"lo":0.75,"hi":1,"v":0.875},{"lo":1,"hi":1.25,"v":1.125},{"lo":1.25,"hi":1.5,"v":1.375},{"lo":1.5,"hi":1.75,"v":1.625},{"lo":1.75,"hi":2,"v":1.875},{"lo":2,"hi":2.25,"v":2.125},{"lo":2.25,"hi":2.5,"v":2.375},{"lo":2.5,"hi":2.75,"v":2.625},{"lo":2.75,"hi":3,"v":2.875},{"lo":3,"hi":3.25,"v":3.125},{"lo":3.25,"hi":3.5,"v":3.375},{"lo":3.5,"hi":3.75,"v":3.625},{"lo":3.75,"hi":4,"v":3.875}]},"mark":{"type":"rect"},"encoding":{"x":{"datum":0,"type":"quantitative","scale":{"domain":[0,1],"nice":false},"axis":null},"x2":{"datum":1},"y":{"field":"lo","type":"quantitative","scale":{"domain":[-4.194,10.889],"nice":false},"axis":{"orient":"right","values":[-4,-2,0,2,4],"labelFontSize":16,"tickSize":12,"labelAlign":"right","labelPadding":21,"title":null}},"y2":{"field":"hi"},"color":{"field":"v","type":"quantitative","legend":null,"scale":{"domain":[-4,0,4],"range":["#0000ff","#ffffff","#ff0000"],"interpolate":"rgb"}}}},{"data":{"values":[{"lo":-4,"hi":4}]},"mark":{"type":"rect","fill":null,"stroke":"#111","strokeWidth":1.4},"encoding":{"x":{"datum":0,"type":"quantitative"},"x2":{"datum":1},"y":{"field":"lo","type":"quantitative"},"y2":{"field":"hi"}}},{"data":{"values":[{"t":"(b)","x":0.278,"y":9.389}]},"mark":{"type":"text","fontSize":21,"align":"left","baseline":"alphabetic"},"encoding":{"x":{"field":"x","type":"quantitative"},"y":{"field":"y","type":"quantitative"},"text":{"field":"t"}}},{"data":{"values":[{"t":"d","x":-1.667,"y":7.111},{"t":"ρ","x":-0.611,"y":7.111},{"t":"/ dT","x":1.333,"y":7.111},{"t":"( 10","x":-1.722,"y":5.167},{"t":"/ K","x":1.278,"y":5.167},{"t":")","x":3.333,"y":5.167}]},"mark":{"type":"text","fontSize":18,"align":"left","baseline":"alphabetic"},"encoding":{"x":{"field":"x","type":"quantitative"},"y":{"field":"y","type":"quantitative"},"text":{"field":"t"}}},{"data":{"values":[{"t":"2","x":-1.111,"y":7.944},{"t":"ab","x":-0.111,"y":6.833},{"t":"n","x":0.833,"y":7.722},{"t":"2","x":3.222,"y":7.722},{"t":"- 6","x":0.111,"y":5.611},{"t":"2","x":2.778,"y":5.889}]},"mark":{"type":"text","fontSize":13,"align":"left","baseline":"alphabetic"},"encoding":{"x":{"field":"x","type":"quantitative"},"y":{"field":"y","type":"quantitative"},"text":{"field":"t"}}}]}],"spacing":37,"bounds":"flush"}]}
